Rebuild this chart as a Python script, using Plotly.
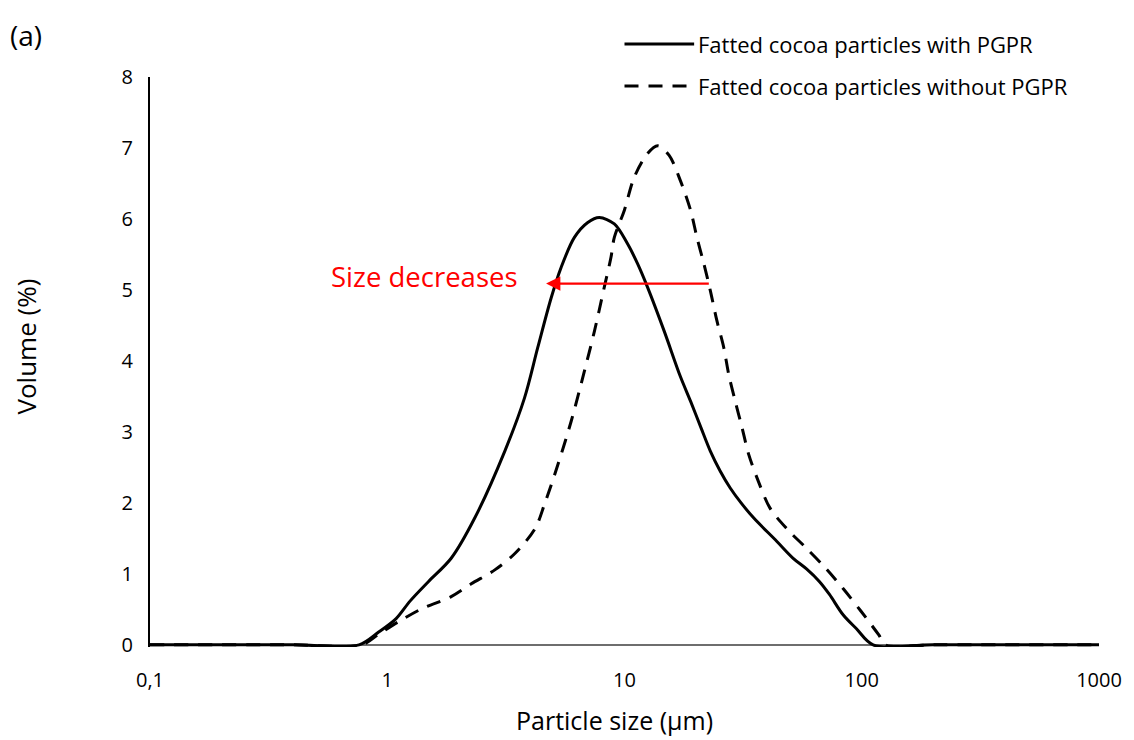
import math
import plotly.graph_objects as go

# ---- data ----
size_with = [0.1, 0.4, 0.76, 0.92, 1.09, 1.25, 1.49, 1.86, 2.34, 3.13, 3.79, 4.31, 4.91, 5.41,
             6.15, 7.0, 7.83, 9.06, 10.3, 11.35, 12.5, 14.7, 17.2, 19.0, 21.0, 23.0, 25.3,
             27.9, 31.0, 35.0, 43.8, 51.4, 58.5, 66.4, 73.1, 83.6, 94.8, 111.7, 200.0, 1000.0]
vol_with = [0, 0, 0, 0.18, 0.37, 0.62, 0.89, 1.22, 1.79, 2.73, 3.48, 4.19, 4.89, 5.32,
            5.74, 5.95, 6.02, 5.93, 5.65, 5.37, 5.04, 4.42, 3.78, 3.43, 3.06, 2.73, 2.45,
            2.21, 2.00, 1.79, 1.46, 1.22, 1.07, 0.89, 0.71, 0.42, 0.23, 0, 0, 0]

size_without = [0.1, 0.4, 0.78, 0.92, 1.12, 1.40, 1.86, 2.26, 2.85, 3.46, 4.20, 4.60, 5.24, 5.96,
                6.78, 7.47, 8.22, 8.77, 9.06, 9.98, 11.0, 12.5, 13.8, 15.4, 17.2, 19.0, 20.2,
                21.6, 23.0, 24.5, 26.2, 27.5, 29.3, 31.3, 33.4, 36.7, 41.0, 48.2, 58.5, 70.9,
                83.6, 99.5, 118.0, 126.0, 200.0, 1000.0]
vol_without = [0, 0, 0, 0.15, 0.33, 0.51, 0.68, 0.86, 1.06, 1.29, 1.64, 1.98, 2.54, 3.15,
               3.86, 4.42, 5.04, 5.46, 5.74, 6.12, 6.59, 6.92, 7.03, 6.90, 6.54, 6.12, 5.74,
               5.37, 4.99, 4.57, 4.19, 3.81, 3.43, 3.06, 2.68, 2.30, 1.93, 1.64, 1.36, 1.07,
               0.79, 0.47, 0.14, 0, 0, 0]

series_names = ["Fatted cocoa particles with PGPR", "Fatted cocoa particles without PGPR"]
x_ticks = [0.1, 1, 10, 100, 1000]
x_tick_labels = ["0,1", "1", "10", "100", "1000"]
y_ticks = [0, 1, 2, 3, 4, 5, 6, 7, 8]

arrow_from = (23.0, 5.09)
arrow_to = (4.67, 5.09)
arrow_label = "Size decreases"

FONT = "Open Sans"
DASH = "14px,10px"

fig = go.Figure()
fig.add_trace(go.Scatter(x=size_with, y=vol_with, mode="lines", name=series_names[0],
                         line=dict(color="black", width=3, shape="spline", smoothing=0.9),
                         showlegend=False))
fig.add_trace(go.Scatter(x=size_without, y=vol_without, mode="lines", name=series_names[1],
                         line=dict(color="black", width=3, shape="spline", smoothing=0.9,
                                   dash=DASH),
                         showlegend=False))

# arrow
fig.add_annotation(x=math.log10(arrow_to[0]), y=arrow_to[1],
                   ax=math.log10(arrow_from[0]), ay=arrow_from[1],
                   xref="x", yref="y", axref="x", ayref="y",
                   showarrow=True, arrowhead=2, arrowsize=1.3, arrowwidth=2.2,
                   arrowcolor="#ff0000", text="")
fig.add_annotation(x=math.log10(3.63), y=5.19, xref="x", yref="y", text=arrow_label,
                   showarrow=False, xanchor="right", yanchor="middle",
                   font=dict(family=FONT, size=27.5, color="#ff0000"))

# manual legend
leg_y = [1.058, 0.984]
for i, (nm, dash) in enumerate(zip(series_names, ["solid", DASH])):
    fig.add_shape(type="line", xref="paper", yref="paper",
                  x0=(627 - 150) / 954, x1=(697 - 150) / 954, y0=leg_y[i], y1=leg_y[i],
                  line=dict(color="black", width=3, dash=dash))
    fig.add_annotation(xref="paper", yref="paper", x=(699 - 150) / 954, y=leg_y[i],
                       text=nm, showarrow=False, xanchor="left", yanchor="middle",
                       font=dict(family=FONT, size=22, color="black"))

fig.add_annotation(xref="paper", yref="paper", x=(7 - 150) / 954, y=(643 - 35) / 566,
                   text="(a)", showarrow=False, xanchor="left", yanchor="middle",
                   font=dict(family=FONT, size=28, color="black"))

# axis titles
fig.add_annotation(xref="paper", yref="paper", x=(617 - 150) / 954, y=(643 - 715) / 566,
                   text="Particle size (µm)", showarrow=False, xanchor="center", yanchor="middle",
                   font=dict(family=FONT, size=25, color="black"))
fig.add_annotation(xref="paper", yref="paper", x=(25 - 150) / 954, y=(643 - 345) / 566,
                   text="Volume (%)", showarrow=False, xanchor="center", yanchor="middle",
                   textangle=-90, font=dict(family=FONT, size=26, color="black"))

# page body has an 8px margin, so offsets are compensated here
fig.update_layout(
    width=1126, height=732,
    margin=dict(l=142, r=30, t=69, b=93),
    paper_bgcolor="white", plot_bgcolor="white",
    font=dict(family=FONT, size=20, color="black"),
    xaxis=dict(type="log", range=[-1, 3.0], tickvals=x_ticks, ticktext=x_tick_labels,
               showgrid=False, zeroline=False, showline=False,
               ticks="outside", ticklen=15, tickcolor="rgba(0,0,0,0)",
               tickfont=dict(size=20)),
    yaxis=dict(range=[-0.03, 8.0], tickvals=y_ticks, showgrid=False,
               zeroline=True, zerolinecolor="#6e6e6e", zerolinewidth=1.5,
               showline=True, linecolor="black", linewidth=2,
               ticks="outside", ticklen=11, tickcolor="rgba(0,0,0,0)",
               tickfont=dict(size=20)),
)

fig.write_html("out.html")
